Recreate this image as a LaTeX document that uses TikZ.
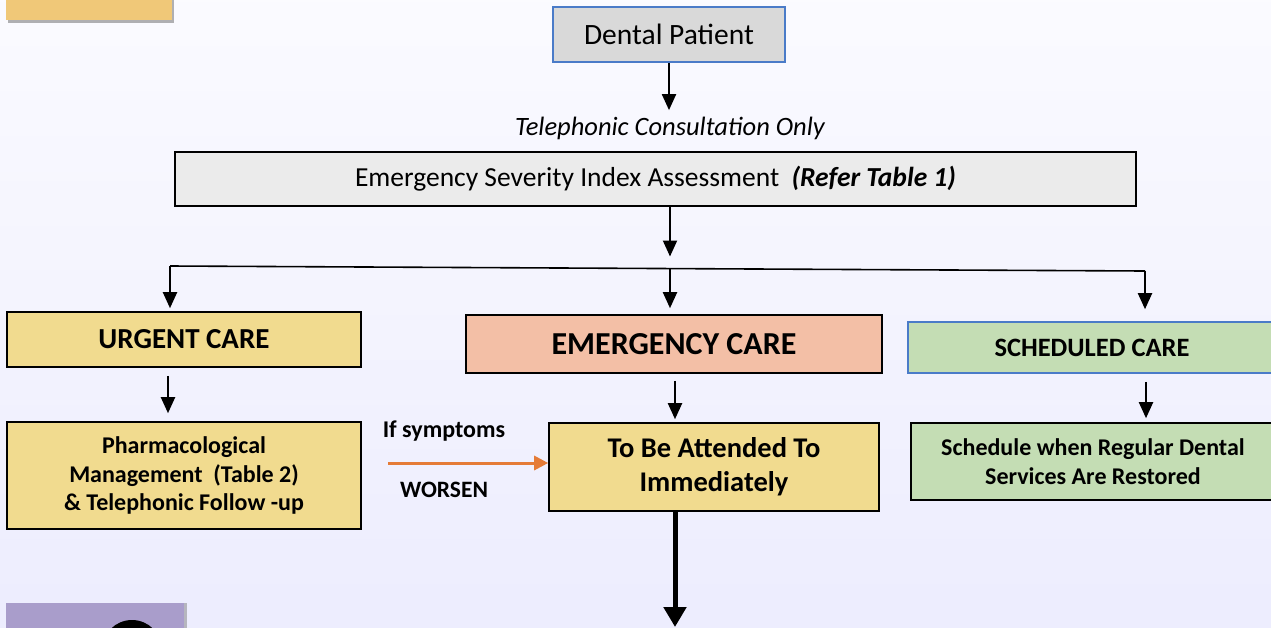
\documentclass[tikz,border=0pt]{standalone}
\usepackage{fontspec}
\setmainfont{Carlito}
\usetikzlibrary{arrows.meta,shadows}
\definecolor{khaki}{HTML}{F1DB8F}
\definecolor{salmon}{HTML}{F3BFA6}
\definecolor{sage}{HTML}{C4DDB4}
\definecolor{greyfill}{HTML}{D9D9D9}
\definecolor{blueline}{HTML}{4A7BC8}
\definecolor{worsenorange}{HTML}{E57B37}
\definecolor{lilac}{HTML}{A99DCB}
\definecolor{sand}{HTML}{F0C878}
\begin{document}
\begin{tikzpicture}[x=1pt,y=-1pt,
  box/.style={draw, line width=1.6pt, inner sep=2pt, align=center},
  arr/.style={draw, line width=2pt, -{Triangle[length=16pt,width=14pt]}},
  fs/.style args={#1/#2}{font=\fontsize{#1}{#2}\selectfont},
  bfs/.style args={#1/#2}{font=\fontsize{#1}{#2}\selectfont\bfseries}]
% background
\clip (0,0) rectangle (1271,627);
\shade[shading angle=-35, top color=white, bottom color=black!6!blue!9!white] (-200,-200) rectangle (1471,827);
\fill[sand, drop shadow={shadow xshift=2pt, shadow yshift=-3pt, fill=black!60}] (6,-10) rectangle (172,20);
\fill[lilac, drop shadow={shadow xshift=3pt, shadow yshift=0pt}] (6,603) rectangle (184,660);
\fill[black] (132,650) circle (30);

\node[box, draw=blueline, fill=greyfill, minimum width=232, minimum height=55, fs=29.5/34] (patient) at (669,34.5) {Dental Patient};
\node[fs=26.5/30] (phone) at (670,128) {\itshape Telephonic Consultation Only};
\node[box, fill=black!8, minimum width=961, minimum height=54, fs=27.5/32] (esi) at (655.5,179)
  {Emergency Severity Index Assessment~~\textbf{\textit{(Refer Table 1)}}};

\node[box, fill=khaki, minimum width=354, minimum height=55, bfs=29/34] (urgent) at (184,339.5) {URGENT CARE};
\node[box, fill=salmon, minimum width=416, minimum height=58, bfs=32/38] (emerg) at (674,344) {EMERGENCY CARE};
\node[box, draw=blueline, fill=sage, minimum width=368, minimum height=51, bfs=26.5/30] (sched) at (1092,347.5) {SCHEDULED CARE};

\node[box, fill=khaki, minimum width=354, minimum height=107, bfs=24/28.5] (pharm) at (184,475.5)
  {Pharmacological\\Management~~(Table 2)\\\& Telephonic Follow -up};
\node[box, fill=khaki, minimum width=330, minimum height=88, bfs=28.5/34] (attend) at (714,467)
  {To Be Attended To\\Immediately};
\node[box, fill=sage, minimum width=364, minimum height=77, bfs=24/29] (later) at (1093,461.5)
  {Schedule when Regular Dental\\Services Are Restored};

\coordinate (barL) at (170,266);
\coordinate (bar) at (670,268.5);
\coordinate (barR) at (1145,271);
\coordinate (worsen) at (388,463);
\coordinate (next) at (675,640);
\node[bfs=24/28] (ifsym) at (444,431) {If symptoms};
\node[bfs=23.5/28] (worse) at (444,490) {WORSEN};

\path[arr, shorten >=3pt] (patient.south) -- (patient.south |- phone.north);
\path[arr, shorten >=12pt] (esi.south -| bar) -- (bar);
\path[draw, line width=1.6pt] (barL) -- (barR);
\path[arr, shorten >=3pt] (barL) -- (barL |- urgent.north);
\path[arr, shorten >=6pt] (bar) -- (bar |- emerg.north);
\path[arr, shorten >=12pt] (barR) -- (barR |- sched.north);

\path[arr, shorten <=8pt, shorten >=8pt] ([xshift=-16]urgent.south) -- ([xshift=-16]pharm.north);
\path[arr, shorten <=7pt, shorten >=3pt] ([xshift=1]emerg.south) -- ([xshift=1]emerg.south |- attend.north);
\path[arr, shorten <=8pt, shorten >=4pt] ([xshift=54]sched.south) -- ([xshift=54]sched.south |- later.north);
\path[draw, worsenorange, line width=3pt, -{Triangle[length=14pt,width=14pt]}] (worsen) -- (worsen -| attend.west);
\path[draw, line width=5pt, -{Triangle[length=20pt,width=22pt]}, shorten >=13pt] (attend.south -| next) -- (next);
\end{tikzpicture}
\end{document}
